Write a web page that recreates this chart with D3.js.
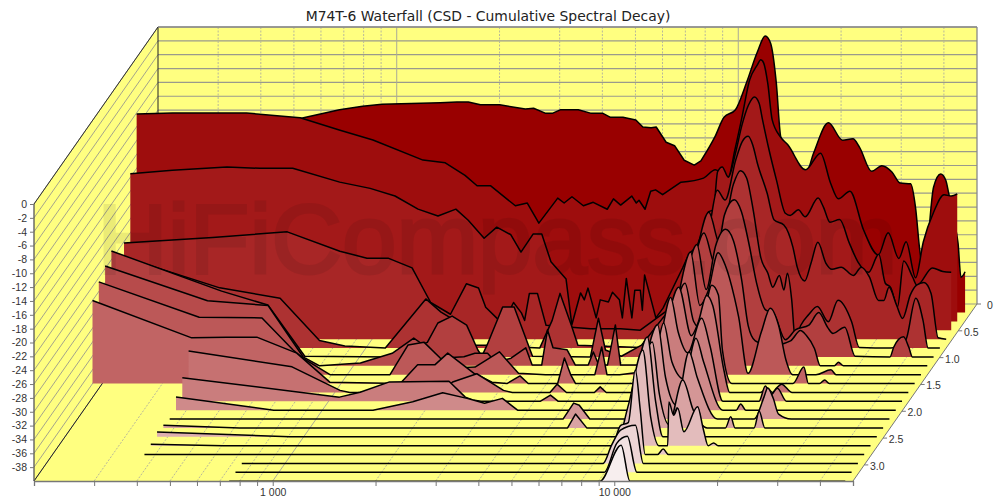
<!DOCTYPE html>
<html><head><meta charset="utf-8">
<script src="https://cdn.jsdelivr.net/npm/d3@7"></script>
<style>html,body{margin:0;padding:0;background:#fff}svg{display:block}text{font-family:"Liberation Sans",Arial,sans-serif}</style>
</head><body><svg id="c" width="1000" height="498"></svg>
<script>
const title="M74T-6 Waterfall (CSD - Cumulative Spectral Decay)";
const watermark="HiFiCompass.com";
const freqTicks=[300,400,500,600,700,800,900,1000,2000,3000,4000,5000,6000,7000,8000,9000,10000,20000,30000,40000];
const freqLabels={1000:"1 000",10000:"10 000"};
const dbTicks=[0,-2,-4,-6,-8,-10,-12,-14,-16,-18,-20,-22,-24,-26,-28,-30,-32,-34,-36,-38];
const timeTicks=[0,0.5,1.0,1.5,2.0,2.5,3.0];
const sliceTimes=[0.16,0.325,0.491,0.656,0.822,0.987,1.152,1.318,1.483,1.649,1.814,1.979,2.145,2.31,2.476,2.641,2.807,2.972,3.137,3.303];

const slice00=[[186,-13.3],[545,-11.9],[700,-10.7],[818,-10.2],[932,-9.9],[1380,-9.7],[1545,-9.6],[1668,-9.6],[1810,-10],[2060,-10],[2450,-10.6],[2590,-10.5],[2800,-11.2],[2950,-11.2],[3110,-10.7],[3500,-10.7],[3800,-11.2],[4120,-11.2],[4350,-11.8],[4730,-11.8],[5160,-12.2],[5410,-13.2],[5720,-13.3],[5920,-13.2],[6330,-15.4],[6700,-15.9],[7150,-18],[7650,-18.7],[8000,-18.1],[8800,-14.6],[9350,-11.8],[10100,-10.7],[10900,-6.7],[11700,-2.4],[12350,-0.05],[12800,-1.1],[13300,-6.8],[13700,-14.6],[14200,-16.5],[15100,-19.7],[16300,-19.7],[17100,-17],[18900,-12.6],[20800,-15.1],[22300,-14.9],[23300,-16.1],[25300,-19.6],[27100,-18.8],[29000,-19.7],[30700,-21.3],[32900,-21.4],[34000,-24.8],[35000,-31],[35900,-34.1],[36900,-30],[38400,-21.9],[40300,-20],[41700,-20.9],[42500,-22.7],[44000,-26.6],[45300,-30],[46200,-34.9],[47500,-34.1]];
const slice01=[[186,-10.05],[237,-9.9],[298,-9.9],[390,-9.9],[560,-10.6],[733,-12.4],[915,-13.8],[1282,-16.7],[1490,-17.1],[1702,-18.9],[1846,-20.4],[2020,-20.4],[2390,-23.3],[2590,-22.9],[2800,-25.8],[3180,-22.2],[3320,-22.9],[3500,-22],[3780,-23.3],[4040,-22.8],[4440,-23.8],[4630,-22.3],[4860,-23.2],[5240,-21.9],[5400,-22.9],[5500,-22.5],[5730,-23.8],[5950,-21.2],[6150,-21],[6450,-21.7],[7300,-19.9],[8500,-19.3],[9200,-18.1],[9700,-18.8],[10040,-19.1],[10500,-15.2],[11000,-10.6],[11600,-5.1],[12200,-3],[12500,-2.2],[12750,-2.7],[13100,-5.6],[13500,-10.9],[14300,-13.4],[15000,-14.5],[16900,-18.1],[18700,-15.7],[20000,-20],[21100,-22.3],[22800,-21.2],[25000,-26.8],[27600,-30.4],[29500,-27.2],[31700,-30.9],[33300,-28.5],[35500,-33.7],[37400,-28.5],[40100,-24.2],[43000,-21.7],[45100,-21.9],[47000,-21.6]];
const slice02=[[186,-17.4],[247,-16.9],[357,-16.4],[445,-16.6],[556,-16.6],[763,-18.6],[937,-19.5],[1108,-20.6],[1294,-22.5],[1480,-23.5],[1670,-22.5],[1815,-24.1],[2020,-26.7],[2200,-25.1],[2420,-26.2],[2590,-28.7],[2810,-26.1],[2980,-26.1],[3170,-30.1],[3510,-32.6],[3650,-39.2],[3870,-34.6],[3970,-35.6],[4070,-33.9],[4300,-38.2],[4420,-35.6],[4670,-35.9],[4800,-34.5],[5030,-35.6],[5130,-38.2],[5270,-32.5],[5470,-38.2],[5580,-34.2],[5790,-34.2],[5870,-37.1],[5960,-32],[6430,-38.2],[6750,-36.8],[7700,-31],[8140,-28.7],[8450,-28],[8810,-26],[9000,-27.7],[9160,-22.9],[9480,-22.6],[9750,-17.1],[10060,-16.4],[10480,-17.9],[11000,-14.4],[11500,-10.3],[12000,-7.5],[12500,-6.3],[12900,-7.2],[13200,-9.6],[13800,-14],[14500,-18.3],[15400,-23.1],[15900,-23.4],[16800,-22.6],[17600,-23.6],[19200,-20.9],[19900,-22.2],[20800,-24.4],[22200,-24],[23700,-27.4],[25100,-30.1],[27000,-31.6],[28900,-29],[30200,-33.2],[31300,-33.8],[32800,-36.6],[34200,-30],[36300,-32.3],[37400,-33.5],[41500,-31],[44500,-31.5],[47100,-31.6]];
const slice03=[[186,-26.1],[338,-25.3],[559,-24.5],[797,-27.3],[957,-28.3],[1103,-28.3],[1297,-29.7],[1470,-34.7],[1680,-36.4],[1870,-32],[2030,-32.6],[2130,-35.4],[2300,-37],[2380,-38],[2570,-34.7],[2710,-36.2],[2770,-37.3],[2860,-33.4],[3020,-33.4],[3200,-38],[4320,-38.5],[5290,-38.5],[6040,-38.7],[7950,-34.4],[9100,-27.1],[9600,-24],[10150,-18.5],[10700,-19.9],[11500,-14.1],[12000,-11.5],[12500,-10.7],[12900,-12],[13300,-14.6],[14200,-18.9],[14900,-22.8],[15900,-23.5],[16900,-26.7],[17400,-29.6],[18300,-31.6],[19100,-29],[20000,-26],[21100,-29],[22000,-29.9],[23400,-29.6],[25400,-30.8],[26800,-29.6],[28300,-31],[30100,-34.4],[31200,-34.4],[32300,-32.5],[34000,-35.1],[35400,-37],[37300,-33.6],[38900,-32.2],[40900,-31.8],[42900,-33.4],[45000,-39.8],[47500,-40]];
const slice04=[[186,-26.6],[370,-31.3],[556,-32.8],[725,-38.9],[860,-39.7],[1130,-40],[1485,-32.9],[1645,-34.8],[1735,-35.5],[1925,-37.4],[2060,-39.6],[2250,-39.6],[3200,-40],[3480,-36],[3670,-32.1],[3960,-36.7],[4140,-39.6],[6330,-39.9],[7270,-36],[8280,-32],[9000,-28],[10000,-20.4],[10800,-25.1],[11800,-16.4],[12380,-14.4],[12900,-15.4],[13500,-20.1],[14200,-26.9],[14900,-29.2],[15400,-31.2],[16100,-29.5],[16600,-31.6],[17000,-29.2],[17500,-33.1],[17900,-38.6],[18600,-36.7],[19600,-35.2],[20800,-34],[22400,-36.2],[23900,-33.1],[26200,-36.2],[27600,-39.9],[34100,-40],[37700,-38.9],[40400,-32.8],[42400,-36],[43900,-40],[47500,-40]];
const slice05=[[186,-24.7],[391,-30.5],[534,-32.5],[685,-39.9],[1217,-40],[1565,-37.9],[1680,-35.1],[1850,-34.1],[2040,-35.4],[2200,-39],[2260,-39.9],[2340,-38.3],[2600,-32.8],[2810,-32.8],[3180,-39.9],[4700,-40],[4960,-34.4],[5200,-39],[5790,-39.9],[6630,-38.3],[7650,-34.4],[8350,-32],[9220,-28],[10100,-22.1],[10900,-26.7],[11600,-19.5],[12400,-17.3],[13000,-19],[13700,-23.8],[14400,-29.3],[15300,-33.2],[16100,-33.6],[17500,-37.5],[18700,-36.1],[20500,-35.4],[21900,-33.6],[23300,-35.8],[24100,-36.6],[26100,-35.7],[28000,-39.9],[35400,-40],[36300,-38.6],[38800,-37.1],[40200,-38.6],[41200,-40],[47500,-40]];
const slice06=[[186,-25.6],[371,-30.6],[558,-31.3],[706,-38.7],[790,-40],[1040,-39.6],[1288,-38.2],[1490,-36],[1550,-36.6],[1775,-38.9],[2090,-38.7],[2250,-38.2],[2450,-38.2],[2590,-39.5],[2870,-38.9],[3170,-37.4],[3310,-39.9],[3530,-39.9],[3670,-34.8],[3810,-37.4],[4190,-37.7],[4430,-39.9],[4830,-39.9],[5000,-38],[5190,-39.9],[5500,-39.9],[5800,-34.1],[6010,-39.9],[6900,-39.9],[8000,-36],[8950,-31],[10050,-22.5],[10700,-29],[11400,-22.7],[12200,-20.3],[12850,-21.9],[13600,-27.7],[14200,-34.2],[14900,-36.4],[16500,-37.1],[18900,-36.4],[20200,-34.9],[21000,-35.6],[22200,-37.5],[23100,-40],[25400,-40],[26100,-39.5],[27000,-40],[47500,-40]];
const slice07=[[186,-26.6],[366,-31.7],[559,-31.8],[688,-36.4],[736,-37.6],[884,-40],[1325,-40],[1497,-35.7],[1665,-35.3],[1858,-37.6],[2090,-39],[2350,-38.9],[2770,-36.7],[3150,-39.8],[3780,-40],[5270,-40],[5520,-36],[5720,-40],[6230,-40],[7190,-39.6],[8220,-36],[9100,-30],[10050,-22.3],[10700,-30],[11300,-28],[12100,-22.4],[12700,-24.2],[13500,-28.8],[13900,-31.7],[14800,-39.8],[16200,-33.8],[17200,-30.4],[18200,-32.9],[19100,-37.8],[20000,-40],[23400,-40],[25900,-39.3],[26800,-40],[47500,-40]];
const slice08=[[186,-28],[363,-33.4],[460,-33.3],[563,-33.3],[737,-35.6],[921,-39.8],[1480,-40],[1665,-37.3],[1870,-37.3],[2040,-35.6],[2430,-38.5],[2750,-39.8],[3040,-40],[3320,-38.9],[3510,-40],[4280,-40],[4480,-36.3],[4680,-38.8],[4830,-40],[6550,-40],[7740,-40],[8440,-36],[9200,-31],[10100,-25.5],[10700,-31],[11200,-32],[12100,-25.8],[12650,-27.2],[13000,-35.2],[13850,-40],[20900,-40],[22500,-37.6],[23200,-40],[25000,-40],[25900,-39.5],[26700,-40],[47500,-40]];
const slice09=[[371,-34],[745,-36.3],[1030,-39.7],[1100,-40],[2030,-40],[2200,-38.5],[2590,-37.3],[3100,-39.7],[3290,-40],[4240,-40],[4450,-38.8],[4740,-40],[5720,-40],[5950,-39.2],[6200,-40],[7800,-40],[8600,-36],[9300,-30],[10100,-24.8],[11000,-31.8],[11500,-30],[12200,-26],[12700,-27.4],[13700,-36.8],[14250,-40],[17500,-40],[18400,-39.4],[19000,-40],[19500,-39.4],[20200,-38.8],[21700,-40],[47500,-40]];
const slice10=[[371,-36.6],[1070,-39.4],[1230,-38.7],[1500,-37.2],[2240,-37.1],[2500,-39.4],[2630,-39.8],[2780,-40],[4140,-40],[4440,-39.1],[4680,-40],[7720,-40],[8400,-36],[9300,-31],[9980,-25],[10500,-30],[11200,-33],[12300,-28],[13000,-31.9],[14200,-40],[18100,-40],[18900,-37.8],[19600,-39.1],[20500,-38.1],[21800,-40],[47500,-40]];
const slice11=[[371,-38.1],[717,-40],[1400,-40],[1830,-38.8],[2240,-37.5],[2640,-38.3],[2970,-39],[3350,-38.3],[3710,-40],[4960,-40],[7980,-40],[8800,-35],[9500,-31],[9930,-27.4],[10500,-33],[11400,-35.5],[12350,-29.6],[13000,-33],[14800,-40],[16200,-40],[16700,-39.1],[17300,-40],[47500,-40]];
const slice12=[[371,-40],[5260,-40],[5650,-37.7],[5870,-38],[6300,-40],[8190,-40],[9000,-33],[9950,-26.4],[10500,-34],[11300,-38],[12300,-30.3],[13000,-34],[14900,-40],[19100,-40],[20400,-36.8],[20900,-35.5],[21700,-37],[22500,-39.3],[24500,-40],[47500,-40]];
const slice13=[[371,-39.6],[620,-40],[5660,-40],[5970,-38],[6440,-40],[8230,-40],[9100,-33],[10020,-27.6],[10500,-35],[11200,-39.5],[12300,-33.1],[13200,-37.4],[14500,-40],[16400,-40],[17000,-38.4],[17500,-40],[19900,-40],[20600,-37.6],[21400,-40],[47500,-40]];
const slice14=[[371,-39.3],[908,-40],[8470,-40],[9200,-33],[10110,-25.6],[10700,-35],[11230,-40],[11700,-40],[12350,-35.8],[12900,-39.3],[13500,-39.3],[14200,-35.7],[14800,-40],[47500,-40]];
const slice15=[[371,-39.8],[605,-40],[8510,-40],[9300,-34],[10230,-26.2],[10800,-36],[11400,-40],[12100,-40],[12200,-33.7],[12600,-35.6],[12950,-34.6],[13500,-38],[14800,-34.4],[15400,-37.7],[15900,-40],[16500,-39.6],[17000,-40],[47500,-40]];
const slice16=[[371,-40],[8510,-40],[9200,-35.8],[9680,-35.4],[10150,-27.8],[10500,-33.6],[10850,-40],[11800,-40],[12250,-39.2],[12700,-40],[47500,-40]];
const slice17=[[746,-40],[8520,-40],[9020,-37.4],[9590,-35.2],[10600,-34.5],[11180,-40],[47500,-40]];
const slice18=[[746,-40],[8960,-40],[9760,-35.8],[10470,-34.8],[11170,-40],[47500,-40]];
const slice19=[[746,-40],[9080,-40],[10480,-34.8],[11120,-40],[47500,-40]];
const slices=[slice00,slice01,slice02,slice03,slice04,slice05,slice06,slice07,slice08,slice09,slice10,slice11,slice12,slice13,slice14,slice15,slice16,slice17,slice18,slice19];

const YEL="#ffff80",GRID="#9a9a8c",DOT="#b8b89a",SMOOTH_FROM=8000;
const WALL_X=124,WALL_Y=177;
const svg=d3.select("#c");
const x=d3.scaleLog().domain([200,50000]).range([34,853]);
const y=d3.scaleLinear().domain([-40,0]).range([481,204]);
const t=d3.scaleLinear().domain([0,3.3]).range([1,0]);
const sliceDx=d3.scaleLinear().domain([0,3.3]).range([125.8,0]);
const color=d3.scaleLinear().domain([0,sliceTimes.length-1]).range(["#990000","#f7eeee"]).interpolate(d3.interpolateRgb);

const poly=p=>"M"+p.map(d=>d.join(",")).join("L")+"Z";
const X0=x.range()[0],X1=x.range()[1],Y0=y(-40),Y1=y(0);
svg.append("path").attr("d",poly([[X0,Y1],[X0+WALL_X,Y1-WALL_Y],[X0+WALL_X,Y0-WALL_Y],[X0,Y0]])).attr("fill",YEL);
svg.append("rect").attr("x",X0+WALL_X).attr("y",Y1-WALL_Y).attr("width",X1-X0).attr("height",Y0-Y1).attr("fill",YEL);
svg.append("path").attr("d",poly([[X0,Y0],[X1,Y0],[X1+WALL_X,Y0-WALL_Y],[X0+WALL_X,Y0-WALL_Y]])).attr("fill",YEL);
const gridG=svg.append("g");
dbTicks.concat([-40]).forEach(d=>{
  gridG.append("line").attr("x1",X0+WALL_X).attr("x2",X1+WALL_X).attr("y1",y(d)-WALL_Y).attr("y2",y(d)-WALL_Y).attr("stroke",GRID).attr("stroke-width",1.2);
  gridG.append("line").attr("x1",X0).attr("x2",X0+WALL_X).attr("y1",y(d)).attr("y2",y(d)-WALL_Y).attr("stroke",GRID).attr("stroke-width",0.9);
});
freqTicks.forEach(f=>{
  const dec=f===1000||f===10000,c=dec?"#aaaa98":DOT,dash=dec?null:"2,1.5";
  gridG.append("line").attr("x1",x(f)+WALL_X).attr("x2",x(f)+WALL_X).attr("y1",Y1-WALL_Y).attr("y2",Y0-WALL_Y).attr("stroke",c).attr("stroke-width",1).attr("stroke-dasharray",dash);
  gridG.append("line").attr("x1",x(f)).attr("x2",x(f)+WALL_X).attr("y1",Y0).attr("y2",Y0-WALL_Y).attr("stroke",c).attr("stroke-width",1).attr("stroke-dasharray",dash);
});
svg.append("line").attr("x1",X0).attr("y1",Y1).attr("x2",X0+WALL_X).attr("y2",Y1-WALL_Y).attr("stroke","#333").attr("stroke-width",1);
svg.append("line").attr("x1",X0).attr("y1",Y0).attr("x2",X0+WALL_X).attr("y2",Y0-WALL_Y).attr("stroke","#222").attr("stroke-width",1);
svg.append("line").attr("x1",X0+WALL_X).attr("y1",Y1-WALL_Y).attr("x2",X0+WALL_X).attr("y2",Y0-WALL_Y).attr("stroke","#222").attr("stroke-width",1);
svg.append("line").attr("x1",X0+WALL_X).attr("y1",Y1-WALL_Y).attr("x2",X1+WALL_X).attr("y2",Y1-WALL_Y).attr("stroke","#888").attr("stroke-width",1.3);
svg.append("line").attr("x1",X1+WALL_X).attr("y1",Y1-WALL_Y).attr("x2",X1+WALL_X).attr("y2",Y0-WALL_Y).attr("stroke","#888").attr("stroke-width",1.3);
svg.append("line").attr("x1",X1).attr("y1",Y0).attr("x2",X1+WALL_X).attr("y2",Y0-WALL_Y).attr("stroke","#777").attr("stroke-width",1);

const gS=svg.append("g");
slices.forEach((data,i)=>{
  const dx=sliceDx(sliceTimes[i]), dy=WALL_Y*t(sliceTimes[i]);
  const px=d=>x(d[0])+dx, py=d=>y(d[1])-dy;
  const low=data.filter(d=>d[0]<=SMOOTH_FROM), high=data.filter(d=>d[0]>=SMOOTH_FROM);
  if(low.length&&high.length&&high[0][0]!==low[low.length-1][0]) high.unshift(low[low.length-1]);
  const linear=d3.line().x(px).y(py).curve(d3.curveLinear);
  const smooth=d3.line().x(px).y(py).curve(d3.curveMonotoneX);
  const top=linear(low)+smooth(high).replace(/^M/,"L");
  const base=y(-40)-dy, first=data[0], last=data[data.length-1];
  gS.append("path").attr("d",top+`L${px(last)},${base}L${px(first)},${base}Z`).attr("fill",color(i));
  gS.append("path").attr("d",top).attr("fill","none").attr("stroke","#000").attr("stroke-width",1.5).attr("stroke-linejoin","round");
});

const ax=svg.append("g").attr("transform",`translate(${X0},0)`).call(d3.axisLeft(y).tickValues(dbTicks).tickSize(4).tickFormat(d=>d));
const bx=svg.append("g").attr("transform",`translate(0,${Y0})`).call(d3.axisBottom(x).tickValues(freqTicks).tickSize(5).tickFormat(f=>freqLabels[f]||""));
[ax,bx].forEach(g=>{g.selectAll("text").attr("fill","#333").style("font-size","10.5px");g.selectAll("line").attr("stroke","#777");g.select(".domain").attr("stroke","#777").attr("stroke-width",1.3);});
ax.select(".domain").attr("stroke","#555").attr("d",`M${0},${Y1}V${Y0}`);
timeTicks.forEach(v=>{
  const px=X1+WALL_X*t(v), py=Y0-WALL_Y*t(v);
  svg.append("line").attr("x1",px).attr("y1",py).attr("x2",px+4).attr("y2",py).attr("stroke","#777");
  svg.append("text").attr("x",px+13).attr("y",py+5).attr("text-anchor","middle").attr("font-size",10.5).attr("fill","#333").text(v===0?"0":v.toFixed(1));
});

svg.append("text").attr("x",488).attr("y",21).attr("text-anchor","middle").style("font-family","'DejaVu Sans'").attr("font-size",13.9).attr("fill","#222").text(title);
svg.append("text").attr("x",97).attr("y",273).attr("font-size",98).attr("fill","#000").attr("stroke","#000").attr("stroke-width",3).attr("opacity",0.075).text(watermark);
</script></body></html>
